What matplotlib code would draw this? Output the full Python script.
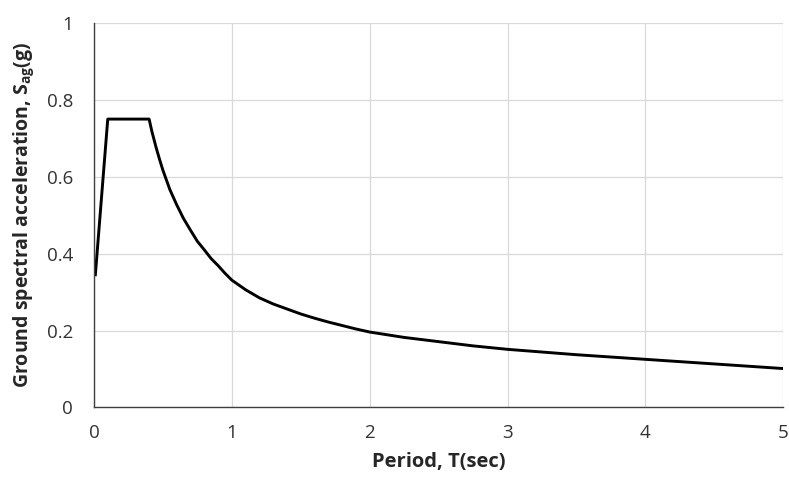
import matplotlib
matplotlib.use("Agg")
import matplotlib.pyplot as plt

period = [0.01, 0.1, 0.4, 0.42, 0.45, 0.475, 0.5, 0.55, 0.6, 0.65, 0.7, 0.75, 0.8,
          0.85, 0.9, 0.95, 1.0, 1.1, 1.2, 1.3, 1.4, 1.5, 1.6, 1.7, 1.8, 1.9, 2.0,
          2.25, 2.5, 2.75, 3.0, 3.25, 3.5, 3.75, 4.0, 4.25, 4.5, 4.75, 5.0]
sag = [0.345, 0.75, 0.75, 0.718, 0.677, 0.646, 0.617, 0.567, 0.527, 0.491, 0.461,
       0.432, 0.41, 0.387, 0.369, 0.349, 0.331, 0.306, 0.285, 0.269, 0.256, 0.243,
       0.232, 0.222, 0.213, 0.204, 0.196, 0.182, 0.171, 0.160, 0.151, 0.144, 0.137,
       0.131, 0.125, 0.119, 0.113, 0.107, 0.101]
xticks = [0, 1, 2, 3, 4, 5]
yticks = [0, 0.2, 0.4, 0.6, 0.8, 1.0]
ytick_labels = ["0", "0.2", "0.4", "0.6", "0.8", "1"]

plt.rcParams['font.family'] = ['Open Sans', 'DejaVu Sans']
plt.rcParams['mathtext.fontset'] = 'custom'
plt.rcParams['mathtext.rm'] = 'Open Sans:bold'
plt.rcParams['mathtext.default'] = 'rm'

fig = plt.figure(figsize=(7.89, 4.84), dpi=100)
ax = fig.add_axes([0.1191, 0.1583, 0.8737, 0.7942])
ax.plot(period, sag, color='black', lw=2.1, solid_joinstyle='round')
ax.set_xlim(0, 5)
ax.set_ylim(0, 1)
ax.set_xticks(xticks)
ax.set_yticks(yticks)
ax.set_yticklabels(ytick_labels)
ax.grid(True, color='#d9d9d9', lw=0.9)
ax.set_axisbelow(True)
for s in ['top', 'right']:
    ax.spines[s].set_visible(False)
for s in ['left', 'bottom']:
    ax.spines[s].set_color('#404040')
    ax.spines[s].set_linewidth(1.0)
ax.tick_params(length=0, labelsize=13.5, colors='#333333')
ax.tick_params(axis='y', pad=15)
ax.tick_params(axis='x', pad=12)
ax.set_xlabel("Period, T(sec)", fontsize=14.5, fontweight='bold', color='#262626', labelpad=7)
ax.set_ylabel(r"Ground spectral acceleration, S$_{ag}$(g)", fontsize=14,
              fontweight='bold', color='#262626', labelpad=8)
fig.savefig("out.png", dpi=100)
